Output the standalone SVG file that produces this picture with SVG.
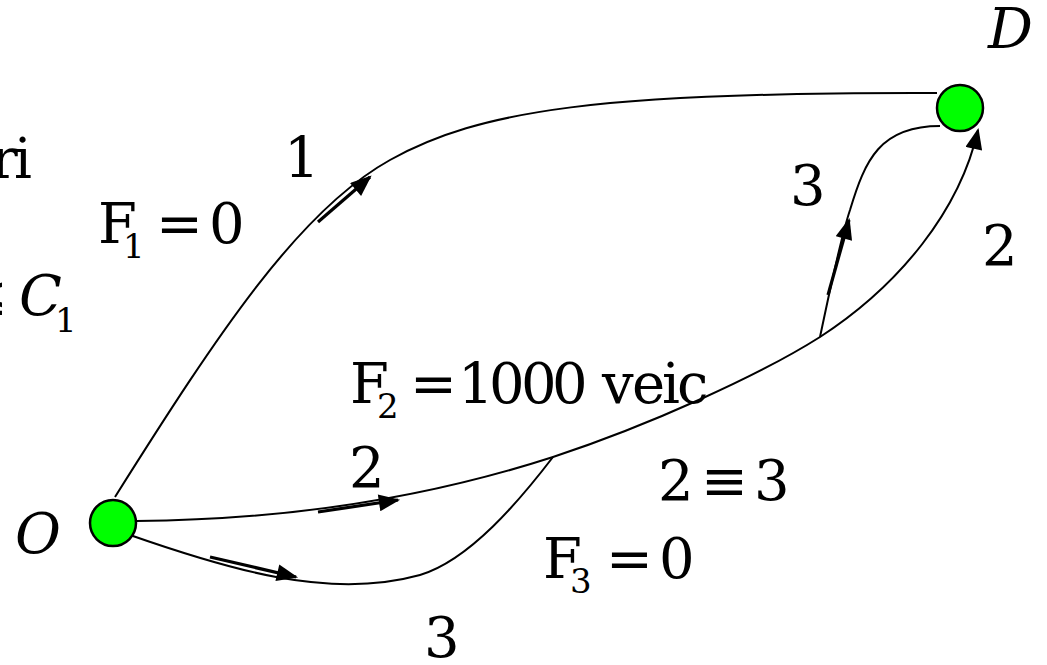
<svg xmlns="http://www.w3.org/2000/svg" width="1047" height="665" viewBox="0 0 1047 665">
<style>
.t{font-family:'DejaVu Serif',serif;font-size:56px;fill:#000}
.i{font-style:italic}
.s{font-size:34px}
.e{fill:none;stroke:#000;stroke-width:2}
.a{fill:none;stroke:#000;stroke-width:3.2}
.n{fill:#00FF00;stroke:#000;stroke-width:2.5}
</style>
<defs>
<marker id="arr" viewBox="0 0 20 16" refX="18" refY="8" markerWidth="22" markerHeight="17" markerUnits="userSpaceOnUse" orient="auto">
<path d="M0,0 L20,8 L0,16 Z" fill="#000"/>
</marker>
</defs>
<g id="connectors">
<path class="e" d="M115,497 C220,330 300,210 390,160 C480,110 600,92 937,93"/>
<path class="e" d="M136,521 C280,520 420,500 553,457 C650,425 760,375 820,337 C900,285 960,210 978,130" marker-end="url(#arr)"/>
<path class="e" d="M130,535 C230,570 330,600 420,575 C470,560 520,500 553,457"/>
<path class="e" d="M820,337 C830,290 840,240 850,210 C865,160 880,126 940,126"/>
<line class="a" x1="318" y1="222" x2="370" y2="177" marker-end="url(#arr)"/>
<line class="a" x1="318" y1="512" x2="398" y2="500" marker-end="url(#arr)"/>
<line class="a" x1="210" y1="557" x2="296" y2="577" marker-end="url(#arr)"/>
<line class="a" x1="828" y1="295" x2="849" y2="220" marker-end="url(#arr)"/>
</g>
<g id="node-O">
<circle class="n" cx="113" cy="523" r="23"/>
<text class="t i" x="15" y="553">O</text>
</g>
<g id="node-D">
<circle class="n" cx="960" cy="108" r="23"/>
<text class="t i" x="988" y="48">D</text>
</g>
<g id="labels">
<text class="t" x="-9 14" y="178">ri</text>
<text class="t" x="-39" y="315">≤<tspan class="i" x="19">C</tspan><tspan class="s" x="55" y="332">1</tspan></text>
<text class="t" x="284" y="177">1</text>
<text class="t" x="98" y="243">F<tspan class="s" x="123" y="258">1</tspan><tspan x="156" y="243">=</tspan><tspan x="209" y="243">0</tspan></text>
<text class="t" x="790" y="205">3</text>
<text class="t" x="982" y="265">2</text>
<text class="t" x="350" y="403">F<tspan class="s" x="377" y="418">2</tspan><tspan x="410" y="403">=</tspan><tspan x="458 489 521 552" y="403">1000</tspan><tspan x="602 632 662 677" y="403">veic</tspan></text>
<text class="t" x="349" y="487">2</text>
<text class="t" x="658" y="500">2<tspan x="701">≡</tspan><tspan x="754">3</tspan></text>
<text class="t" x="543" y="578">F<tspan class="s" x="570" y="593">3</tspan><tspan x="606" y="578">=</tspan><tspan x="659" y="578">0</tspan></text>
<text class="t" x="424" y="657">3</text>
</g>
</svg>
